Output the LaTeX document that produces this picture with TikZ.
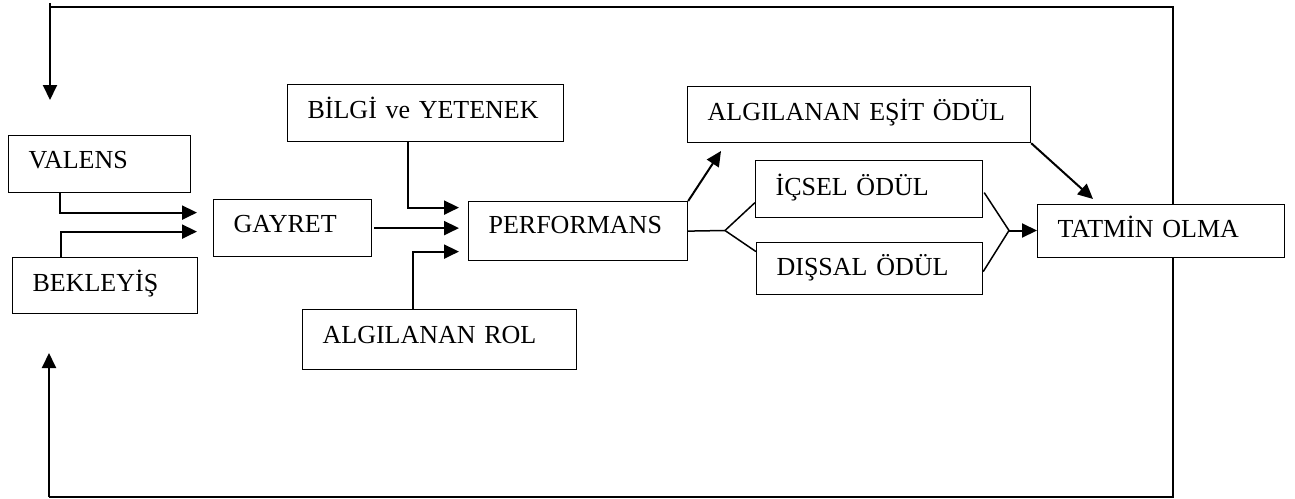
\documentclass[tikz,border=0pt]{standalone}
\usepackage{fontspec}
\setmainfont{Liberation Serif}
\usetikzlibrary{arrows.meta}
\tikzset{
  box/.style={draw, line width=1.2pt, fill=white, anchor=north west,
    inner xsep=20pt, inner ysep=0pt, align=left,
    font=\fontsize{26pt}{30pt}\selectfont},
  arr/.style={line width=2pt, -{Triangle[length=15pt,width=14pt]}},
  plain/.style={line width=1.5pt},
  loopline/.style={line width=2pt}
}
\begin{document}
\begin{tikzpicture}[x=1pt,y=-1pt]
\useasboundingbox (0,0) rectangle (1295,498);
% feedback loop coordinates
\coordinate (topR) at (1173,7);
\coordinate (topL) at (50,7);
\coordinate (fbtop) at (50,100);
\coordinate (botR) at (1173,497);
\coordinate (botL) at (49,497);
\coordinate (fbbot) at (49,353);
\coordinate (esitIn) at (721,151);
\coordinate (tatIn) at (1093,199);
\coordinate (branch) at (725,230.5);
\coordinate (merge) at (1009,230.5);
% boxes
\node[box, text width=142pt, text height=33pt, text depth=24pt] (valens) at (8,135) {VALENS};
\node[box, text width=145pt, text height=34pt, text depth=22pt] (bekleyis) at (12,257) {BEKLEYİŞ};
\node[box, text width=118pt, text height=33pt, text depth=24pt] (gayret) at (213,199) {GAYRET};
\node[box, text width=236pt, text height=34pt, text depth=23pt] (bilgi) at (287,84) {BİLGİ ve YETENEK};
\node[box, text width=234pt, text height=34pt, text depth=26pt] (rol) at (302,309) {ALGILANAN ROL};
\node[box, text width=179pt, text height=32pt, text depth=27pt] (perf) at (468,201) {PERFORMANS};
\node[box, text width=303pt, text height=34pt, text depth=22pt] (esit) at (687,86) {ALGILANAN EŞİT ÖDÜL};
\node[box, text width=187pt, text height=35pt, text depth=22pt] (icsel) at (755,160) {İÇSEL ÖDÜL};
\node[box, text width=186pt, text height=33pt, text depth=19pt] (dissal) at (756,242) {DIŞSAL ÖDÜL};
% feedback loop lines (behind TATMİN box)
\draw[loopline] (topR |- 0,204) -- (topR) -- (topL) -- (50,3);
\draw[arr] (topL) -- (fbtop);
\draw[loopline] (botR |- 0,257) -- (botR) -- (botL);
\draw[arr] (botL) -- (fbbot);
\node[box, text width=207pt, text height=33pt, text depth=20pt] (tatmin) at (1037,204) {TATMİN OLMA};
% connectors into GAYRET
\draw[arr, shorten >=16pt] ([xshift=52pt]valens.south west) |- ([yshift=15.5pt]gayret.west);
\draw[arr, shorten >=16pt] ([xshift=49pt]bekleyis.north west) |- ([yshift=-3.5pt]gayret.west);
% connectors into PERFORMANS
\draw[arr, shorten >=9pt] ([xshift=121pt]bilgi.south west) |- ([yshift=23.5pt]perf.west);
\draw[arr, shorten >=9pt] ([xshift=2pt]gayret.east) -- (gayret.east -| perf.west);
\draw[arr, shorten >=9pt] ([xshift=111pt]rol.north west) |- ([yshift=-20.5pt]perf.west);
% from PERFORMANS
\draw[arr] (perf.north east) -- (esitIn);
\draw[plain] (perf.east) -- (branch) -- ([yshift=-13.5pt]icsel.west);
\draw[plain] (branch) -- ([yshift=17pt]dissal.west);
% rewards to TATMİN
\draw[plain] ([xshift=1pt,yshift=-3.5pt]icsel.east) -- (merge) -- ([yshift=-3pt]dissal.east);
\draw[arr] (merge) -- (merge -| tatmin.west);
\draw[arr] (esit.south east) -- (tatIn);
\end{tikzpicture}
\end{document}
